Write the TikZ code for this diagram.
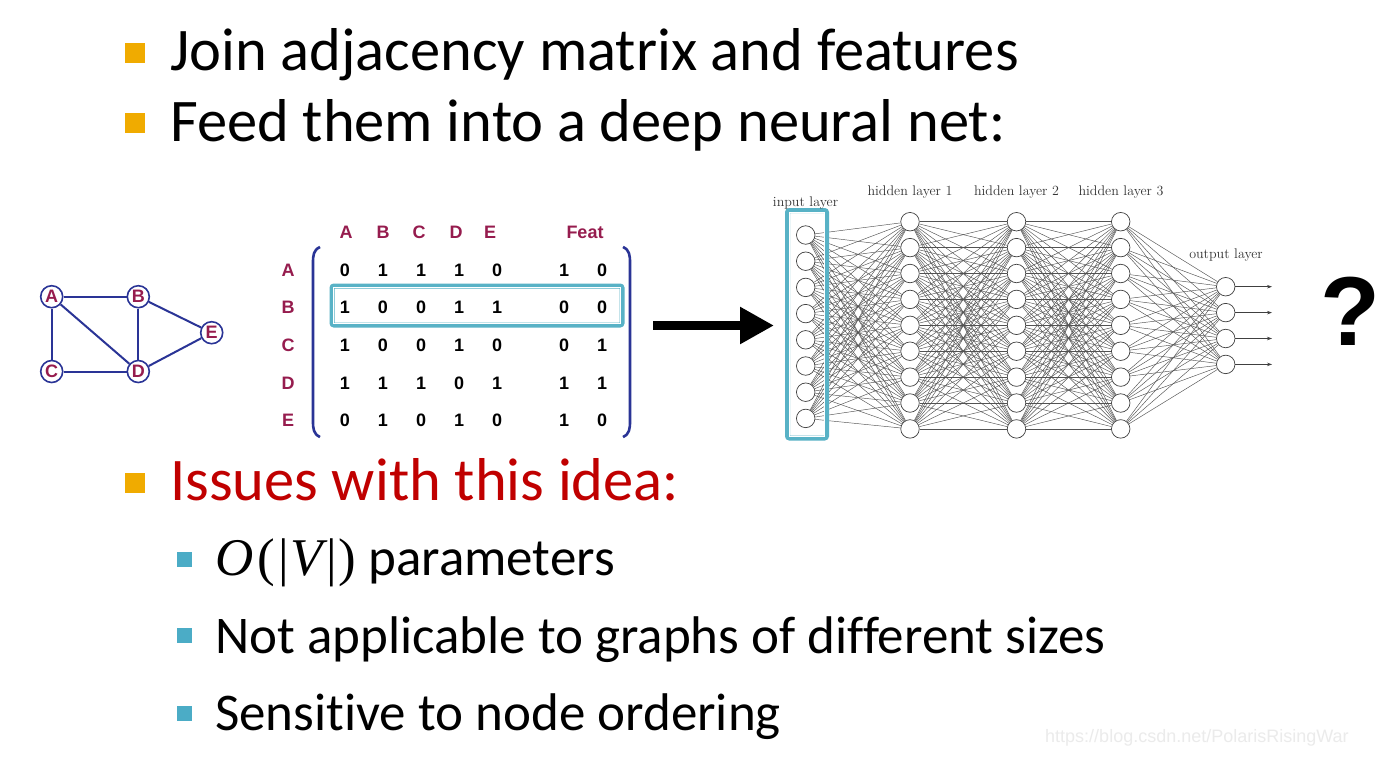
\documentclass[tikz,border=0pt]{standalone}
\usepackage{fontspec}
\setmainfont{Carlito}[Ligatures=CommonOff]
\newfontfamily\arialf{Liberation Sans}
\newfontfamily\cmfont{Latin Modern Roman}
\newfontfamily\tnrfont{Liberation Serif}
\usetikzlibrary{arrows.meta}
\definecolor{bulorange}{RGB}{240,171,0}
\definecolor{subteal}{RGB}{75,172,198}
\definecolor{hlteal}{RGB}{88,178,198}
\definecolor{issred}{RGB}{192,0,0}
\definecolor{gnavy}{RGB}{42,52,150}
\definecolor{gmaroon}{RGB}{150,28,78}
\newcommand{\bigO}{{\tnrfont\itshape O\kern4pt}{\tnrfont(\kern3pt|\kern2pt}{\tnrfont\itshape V\kern3pt}{\tnrfont|\kern2pt)}}
\begin{document}
\begin{tikzpicture}[x=1pt,y=-1pt,
  mainline/.style={anchor=base west, inner sep=0, font=\fontsize{60.5}{64}\selectfont},
  subline/.style={anchor=base west, inner sep=0, font=\fontsize{53}{56}\selectfont},
  bsq/.style={fill=bulorange, minimum size=20pt, inner sep=0},
  ssq/.style={fill=subteal, minimum size=15pt, inner sep=0},
  gnode/.style={circle, draw=gnavy, line width=1.6pt, fill=white, minimum size=22pt, inner sep=0,
    font=\arialf\bfseries\fontsize{18}{18}\selectfont, text=gmaroon},
  gedge/.style={gnavy, line width=2pt},
  mval/.style={font=\arialf\bfseries\fontsize{18}{18}\selectfont, inner sep=0},
  mlab/.style={mval, text=gmaroon},
  brk/.style={gnavy, line width=2.6pt},
  hlout/.style={hlteal, line width=5pt, rounded corners=2pt},
  hlin/.style={white, line width=1.2pt},
  nn/.style={circle, draw=black!75, fill=white, line width=0.7pt, minimum size=18.5pt, inner sep=0},
  nnedge/.style={black!68, line width=0.45pt},
  nnlab/.style={font=\cmfont\fontsize{14}{14}\selectfont, text=black!80, anchor=base, inner sep=0},
  outarr/.style={black!75, line width=0.6pt, -{Stealth[length=5pt,width=3.5pt]}}
]
\useasboundingbox[fill=white] (0,0) rectangle (1400,756);

% ---------- bullet text ----------
\node[bsq] (b1) at (135,53) {};
\node[mainline] (t1) at (170,70) {Join adjacency matrix and features};
\node[bsq] (b2) at (135,123) {};
\node[mainline] (t2) at (170,141) {Feed them into a deep neural net:};
\node[bsq] (b3) at (135,482.5) {};
\node[mainline, text=issred] (t3) at (170,500) {Issues with this idea:};
\node[ssq] (s1) at (184.5,559.5) {};
\node[subline] (u1) at (215,575) {\bigO{} parameters};
\node[ssq] (s2) at (184.5,635) {};
\node[subline] (u2) at (215,653) {Not applicable to graphs of different sizes};
\node[ssq] (s3) at (184.5,713.5) {};
\node[subline] (u3) at (215,730) {Sensitive to node ordering};

% ---------- graph ----------
\node[gnode] (A) at (51.7,296.7) {A};
\node[gnode] (B) at (138.3,296.7) {B};
\node[gnode] (C) at (51.7,371.5) {C};
\node[gnode] (D) at (138.3,371.5) {D};
\node[gnode] (E) at (211.7,332.7) {E};
\draw[gedge] (A) -- (B);
\draw[gedge] (A) -- (C);
\draw[gedge] (A) -- (D);
\draw[gedge] (B) -- (D);
\draw[gedge] (B) -- (E);
\draw[gedge] (C) -- (D);
\draw[gedge] (D) -- (E);

% ---------- matrix ----------
\draw[hlout] (332,286) rectangle (622,325);
\draw[hlin] (333.8,287.8) rectangle (620.2,323.2);
\foreach \h/\x in {A/346,B/383,C/419,D/456,E/490}
  \node[mlab] (hc-\h) at (\x,232.5) {\h};
\node[mlab] (hc-F) at (585,232.5) {Feat};
\foreach \r/\y/\vals in {A/270/{0,1,1,1,0,1,0},B/307/{1,0,0,1,1,0,0},C/345/{1,0,0,1,0,0,1},D/383/{1,1,1,0,1,1,1},E/420/{0,1,0,1,0,1,0}}{
  \node[mlab] (hr-\r) at (288,\y) {\r};
  \foreach \v [count=\c] in \vals {
    \pgfmathsetmacro{\xx}{{345,383,421,459,497,564,602}[\c-1]}
    \node[mval] (m-\r-\c) at (\xx,\y) {\v};
  }
}
\draw[brk] (320,247) .. controls (313.5,250) and (313,255) .. (313,263) -- (313,421) .. controls (313,429) and (313.5,434) .. (320,437);
\draw[brk] (623,247) .. controls (629.5,250) and (630,255) .. (630,263) -- (630,421) .. controls (630,429) and (629.5,434) .. (623,437);

% ---------- arrow ----------
\coordinate (arrS) at (653,325.5);
\coordinate (arrE) at (774,325.5);
\draw[line width=9pt, -{Triangle[length=34pt,width=35pt]}] (arrS) -- (arrE);

% ---------- neural net ----------
\foreach \i in {1,...,8}
  \node[nn] (in\i) at (805.7,{235+(\i-1)*26.2}) {};
\foreach \l/\x in {1/910,2/1016.5,3/1120.7}
  \foreach \i in {1,...,9}
    \node[nn] (h\l-\i) at (\x,{221.7+(\i-1)*25.9}) {};
\foreach \i in {1,...,4}
  \node[nn] (out\i) at (1225.7,{286.7+(\i-1)*25.9}) {};

\foreach \i in {1,...,8}
  \foreach \j in {1,...,9}
    \draw[nnedge] (in\i) -- (h1-\j);
\foreach \i in {1,...,9}
  \foreach \j in {1,...,9}
    \draw[nnedge] (h1-\i) -- (h2-\j);
\foreach \i in {1,...,9}
  \foreach \j in {1,...,9}
    \draw[nnedge] (h2-\i) -- (h3-\j);
\foreach \i in {1,...,9}
  \foreach \j in {1,...,4}
    \draw[nnedge] (h3-\i) -- (out\j);
\foreach \i in {1,...,4}{
  \coordinate (oe\i) at (1272,{286.7+(\i-1)*25.9});
  \draw[outarr] (out\i) -- (oe\i);
}

\draw[hlout] (787.5,210.5) rectangle (826.5,438);
\draw[hlin] (789.3,212.3) rectangle (824.7,436.2);

\node[nnlab] (lin) at (805.5,206) {input layer};
\node[nnlab] (lh1) at (910,195.5) {hidden layer 1};
\node[nnlab] (lh2) at (1016.5,195.5) {hidden layer 2};
\node[nnlab] (lh3) at (1121,195.5) {hidden layer 3};
\node[nnlab] (lout) at (1226,258.5) {output layer};

% ---------- question mark ----------
\node[font=\arialf\bfseries\fontsize{98}{98}\selectfont, anchor=base, inner sep=0] (qm) at (1350,345) {?};

% ---------- watermark ----------
\node[font=\arialf\fontsize{18}{18}\selectfont, text=black!8, anchor=base west, inner sep=0] (wm) at (1045,742) {https://blog.csdn.net/PolarisRisingWar};
\end{tikzpicture}
\end{document}
